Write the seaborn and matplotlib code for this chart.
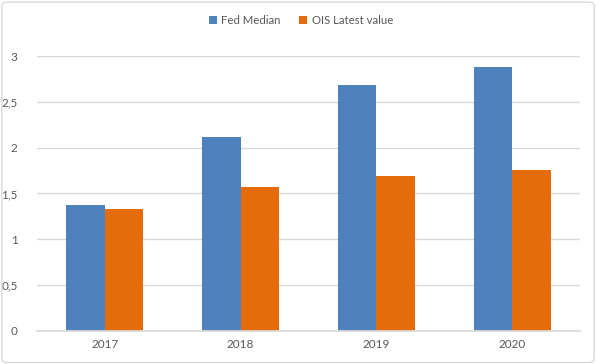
import matplotlib
matplotlib.use('Agg')
import matplotlib.pyplot as plt
from matplotlib.patches import FancyBboxPatch
import seaborn as sns
import pandas as pd

years = ['2017', '2018', '2019', '2020']
fed_median = [1.37, 2.12, 2.68, 2.88]
ois_latest = [1.33, 1.57, 1.69, 1.76]
series_names = ['Fed Median', 'OIS Latest value']
yticks = [0, 0.5, 1, 1.5, 2, 2.5, 3]
ytick_labels = ['0', '0,5', '1', '1,5', '2', '2,5', '3']

sns.set_theme(style='white')
plt.rcParams['font.family'] = ['Lato', 'DejaVu Sans']

df = pd.DataFrame({
    'year': years * 2,
    'value': fed_median + ois_latest,
    'series': [series_names[0]] * len(years) + [series_names[1]] * len(years),
})

fig = plt.figure(figsize=(5.96, 3.64), dpi=100)
ax = fig.add_axes([0.062, 0.091, 0.911, 0.755])

sns.barplot(data=df, x='year', y='value', hue='series',
            palette=['#4F81BD', '#E46C0A'], width=0.567,
            saturation=1, ax=ax, edgecolor='none')

ax.set_ylim(0, 3)
ax.set_xlim(-0.5, 3.5)
ax.set_yticks(yticks)
ax.set_yticklabels(ytick_labels)
ax.yaxis.grid(True, color='#D9D9D9', linewidth=1)
ax.set_axisbelow(True)
ax.set_xlabel('')
ax.set_ylabel('')
for s in ['top', 'right', 'left']:
    ax.spines[s].set_visible(False)
ax.spines['bottom'].set_color('#D9D9D9')
ax.tick_params(axis='both', length=0, colors='#595959', labelsize=8.5)
ax.tick_params(axis='y', pad=14)
ax.tick_params(axis='x', pad=6)

handles, labels = ax.get_legend_handles_labels()
ax.get_legend().remove()
fig.legend(handles, labels, loc='center', bbox_to_anchor=(0.505, 0.945),
           ncol=2, frameon=False, fontsize=8.2, handlelength=0.7,
           handleheight=0.7, columnspacing=1.6, handletextpad=0.4,
           labelcolor='#595959')

fig.patches.append(FancyBboxPatch((0.003, 0.004), 0.994, 0.99,
                                  boxstyle='round,pad=0,rounding_size=0.01',
                                  transform=fig.transFigure, fill=False,
                                  edgecolor='#D9D9D9', linewidth=1))

fig.savefig('out.png', dpi=100)
